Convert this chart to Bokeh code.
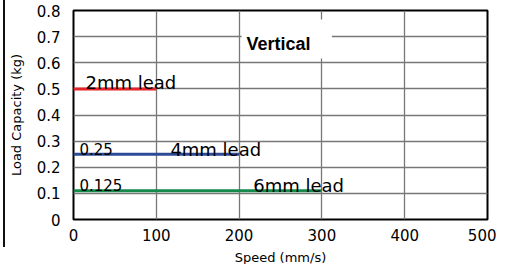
from bokeh.plotting import figure
from bokeh.models import Label, BoxAnnotation, FixedTicker, Range1d, Div
from bokeh.layouts import row, column
from bokeh.embed import file_html
from bokeh.resources import INLINE

# ---- data ----
speed_2mm = [0, 100]
load_2mm = [0.5, 0.5]
speed_4mm = [0, 200]
load_4mm = [0.25, 0.25]
speed_6mm = [0, 300]
load_6mm = [0.11, 0.11]

x_ticks = [0, 100, 200, 300, 400, 500]
y_ticks = [0, 0.1, 0.2, 0.3, 0.4, 0.5, 0.6, 0.7, 0.8]
y_tick_labels = ["0", "0.1", "0.2", "0.3", "0.4", "0.5", "0.6", "0.7", "0.8"]

series_names = ["2mm lead", "4mm lead", "6mm lead"]
value_notes = ["0.25", "0.125"]
title_text = "Vertical"
x_label = "Speed (mm/s)"
y_label = "Load Capacity (kg)"

FONT = "DejaVu Sans"

p = figure(frame_width=414, frame_height=209, output_backend="svg",
           toolbar_location=None,
           x_range=Range1d(0, 500), y_range=Range1d(0, 0.8),
           min_border_left=65, min_border_right=9, min_border_top=10,
           min_border_bottom=43)
p.background_fill_color = "white"
p.border_fill_color = "white"
p.outline_line_color = "black"
p.outline_line_width = 2

for ax in (p.xaxis[0], p.yaxis[0]):
    ax.axis_line_color = None
    ax.major_tick_line_color = None
    ax.minor_tick_line_color = None
    ax.major_label_text_font = FONT
    ax.major_label_text_font_size = "15px"
    ax.major_label_text_color = "black"
    ax.axis_label_text_font = FONT
    ax.axis_label_text_font_size = "13px"
    ax.axis_label_text_font_style = "normal"
    ax.axis_label_text_color = "black"

p.xaxis.ticker = FixedTicker(ticks=x_ticks)
p.yaxis.ticker = FixedTicker(ticks=y_ticks)
p.yaxis.major_label_overrides = {t: s for t, s in zip(y_ticks, y_tick_labels)}
p.xaxis.major_label_standoff = 3
p.yaxis.major_label_standoff = 7
p.xaxis.axis_label = x_label
p.yaxis.axis_label = y_label
p.xaxis.axis_label_standoff = 6
p.yaxis.axis_label_standoff = 10

p.xgrid.ticker = FixedTicker(ticks=x_ticks)
p.ygrid.ticker = FixedTicker(ticks=y_ticks)
for g in (p.xgrid[0], p.ygrid[0]):
    g.grid_line_color = "#777777"
    g.grid_line_width = 1.3

# white patch behind the "Vertical" caption
p.add_layout(BoxAnnotation(left=203, right=312, bottom=0.616, top=0.766,
                           fill_color="white", fill_alpha=1.0, line_color=None))

# series lines
p.line(speed_2mm, load_2mm, line_color="#e3242b", line_width=3)
p.line(speed_4mm, load_4mm, line_color="#2c4a96", line_width=3)
p.line(speed_6mm, load_6mm, line_color="#158a4c", line_width=3)

def add_text(txt, x, y, size, font=FONT, style="normal"):
    p.add_layout(Label(x=x, y=y, text=txt, text_font=font, text_font_size=size,
                       text_font_style=style, text_color="black",
                       text_baseline="alphabetic", text_align="left"))

add_text(series_names[0], 14.5, 0.525, "18px")
add_text(value_notes[0], 7.2, 0.269, "15px")
add_text(series_names[1], 117, 0.269, "18px")
add_text(value_notes[1], 7.2, 0.131, "15px")
add_text(series_names[2], 217, 0.131, "18px")
add_text(title_text, 209, 0.670, "18px", font="Liberation Sans", style="bold")

# page rules (left and bottom)
left_rule = Div(text="", width=2, height=247, margin=(0, 0, 0, 3),
                styles={"background-color": "#111111"})
bottom_rule = Div(text="", width=485, height=2, margin=0,
                  styles={"background-color": "#111111"})
layout = column(row(left_rule, p, spacing=0), bottom_rule, spacing=0)

open("out.html", "w").write(file_html(layout, INLINE))
